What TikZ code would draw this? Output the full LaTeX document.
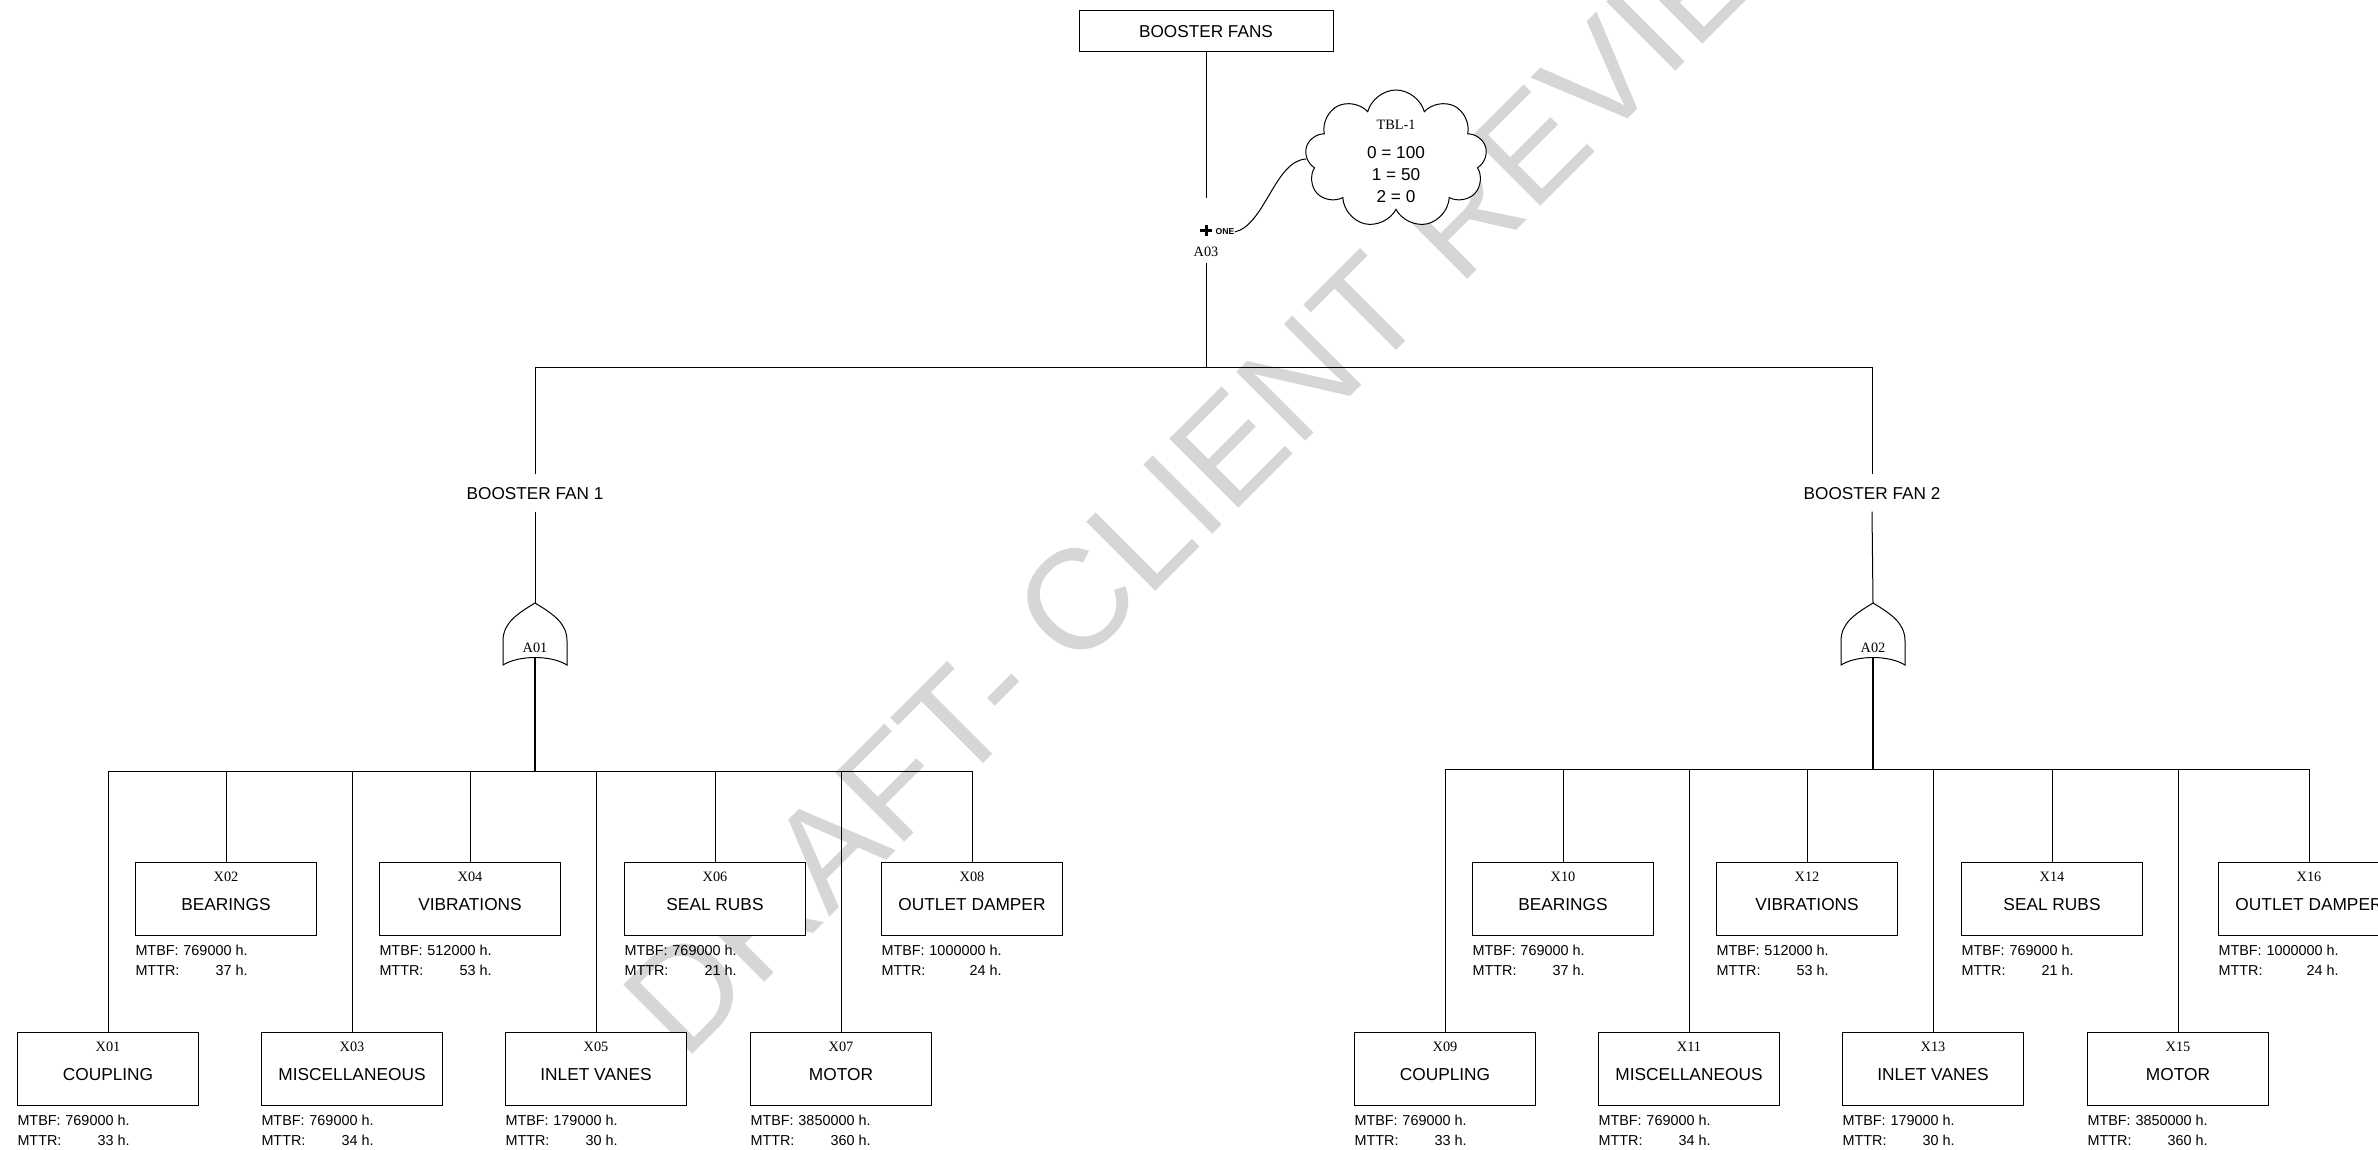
\documentclass[tikz,border=0pt]{standalone}
\usepackage{fontspec}
\setmainfont{Liberation Sans}
\newfontfamily\timesfont{Liberation Serif}
\usepackage{tikz}
\usetikzlibrary{shapes.symbols}
\newcommand{\relia}[2]{\begin{tabular}{@{}l@{\hspace{4pt}}r@{}}MTBF: & #1 h.\\MTTR: & #2 h.\end{tabular}}

\begin{document}
\begin{tikzpicture}[x=1pt,y=-1pt,line width=1pt,
	evbox/.style={draw,fill=white,minimum width=181pt,minimum height=73pt,inner sep=0pt,text height=22.4pt,text depth=0pt,font=\fontsize{17.3}{20}\selectfont},
	code/.style={font=\timesfont\fontsize{14.3}{16}\selectfont,inner sep=0pt},
	evcode/.style={label={[code,anchor=center,yshift=-15pt]north:#1}},
	relbox/.style={anchor=north west,inner sep=0pt,yshift=-5pt,font=\fontsize{14.4}{20}\selectfont},
	fanlabel/.style={inner xsep=0pt,inner ysep=12pt,text height=12.4pt,text depth=0pt,font=\fontsize{17.2}{20}\selectfont},
	orgate/.pic={\draw[fill=white] (0,0) .. controls (18,11) and (32,20) .. (32,38) -- (32,62) .. controls (16,52) and (-16,52) .. (-32,62) -- (-32,38) .. controls (-32,20) and (-18,11) .. (0,0) -- cycle;}]
	\useasboundingbox (0,0) rectangle (2378,1150);
	% watermark
	\node[rotate=45,anchor=base west,inner sep=0pt,text=gray!32,font=\fontsize{142}{150}\selectfont] (draft) at (684,1063) {DRAFT- CLIENT REVIEW};
	
	% top event and voting gate
	\node[draw,fill=white,minimum width=254pt,minimum height=41pt,inner sep=0pt,text height=12.4pt,text depth=0pt,font=\fontsize{17.2}{20}\selectfont] (fans) at (1206,31.5) {BOOSTER FANS};
	\coordinate (a03in) at (1206,198);
	\coordinate (a03out) at (1206,263);
	\coordinate (topbus) at (1206,367);
	\draw (fans) -- (a03in);
	\draw[line width=3pt] (1200,230.7) -- (1212,230.7) (1206,225.3) -- (1206,236.1);
	\node[font=\fontsize{8.6}{9}\selectfont\bfseries,inner sep=0pt] (one) at (1225,232) {ONE};
	\node[code] (a03) at (1206,252) {A03};
	\draw (a03out) -- (topbus);
	\node[cloud,draw,fill=white,cloud puffs=9,aspect=1.3,minimum width=182pt,minimum height=138pt,inner sep=0pt] (tbl) at (1396,159) {};
	\node[anchor=base,align=center,inner sep=0pt,font=\fontsize{17.2}{22}\selectfont] (tbltext) at (1396,202.2) {{\timesfont\fontsize{14.3}{22}\selectfont TBL-1}\\[6.5pt]0 = 100\\1 = 50\\2 = 0};
	\draw (one.east) .. controls (1265,225) and (1275,160) .. (tbl.west);
	
	% booster fan 1
	\node[fanlabel] (fan1) at (535,493) {BOOSTER FAN 1};
	\node[fanlabel] (fan2) at (1872,493) {BOOSTER FAN 2};
	\draw (fan1.north) -- (fan1.north |- topbus) -- (fan2.north |- topbus) -- (fan2.north);
	\coordinate (g1in) at (535,603);
	\coordinate (g1out) at (535,657);
	\coordinate (bus1) at (535,771);
	\draw (fan1.south) -- (g1in);
	\pic at (g1in) {orgate};
	\node[code] (a01) at (535,648) {A01};
	\draw[line width=1.5pt] (g1out) -- (bus1);
	
	\node[evbox,evcode=X01] (x01) at (108,1069) {COUPLING};
	\node[evbox,evcode=X02] (x02) at (226,899) {BEARINGS};
	\node[evbox,evcode=X03] (x03) at (352,1069) {MISCELLANEOUS};
	\node[evbox,evcode=X04] (x04) at (470,899) {VIBRATIONS};
	\node[evbox,evcode=X05] (x05) at (596,1069) {INLET VANES};
	\node[evbox,evcode=X06] (x06) at (715,899) {SEAL RUBS};
	\node[evbox,evcode=X07] (x07) at (841,1069) {MOTOR};
	\node[evbox,evcode=X08] (x08) at (972,899) {OUTLET DAMPER};
	\node[relbox] (r01) at (x01.south west) {\relia{769000}{33}};
	\node[relbox] (r02) at (x02.south west) {\relia{769000}{37}};
	\node[relbox] (r03) at (x03.south west) {\relia{769000}{34}};
	\node[relbox] (r04) at (x04.south west) {\relia{512000}{53}};
	\node[relbox] (r05) at (x05.south west) {\relia{179000}{30}};
	\node[relbox] (r06) at (x06.south west) {\relia{769000}{21}};
	\node[relbox] (r07) at (x07.south west) {\relia{3850000}{360}};
	\node[relbox] (r08) at (x08.south west) {\relia{1000000}{24}};
	\draw (x01.north |- bus1) -- (x08.north |- bus1);
	\draw (x01.north) -- (x01.north |- bus1);
	\draw (x02.north) -- (x02.north |- bus1);
	\draw (x03.north) -- (x03.north |- bus1);
	\draw (x04.north) -- (x04.north |- bus1);
	\draw (x05.north) -- (x05.north |- bus1);
	\draw (x06.north) -- (x06.north |- bus1);
	\draw (x07.north) -- (x07.north |- bus1);
	\draw (x08.north) -- (x08.north |- bus1);
	
	% booster fan 2
	\coordinate (g2in) at (1873,603);
	\coordinate (g2out) at (1873,657);
	\coordinate (bus2) at (1873,769);
	\draw (fan2.south) -- (g2in);
	\pic at (g2in) {orgate};
	\node[code] (a02) at (1873,648) {A02};
	\draw[line width=1.5pt] (g2out) -- (bus2);
	
	\node[evbox,evcode=X09] (x09) at (1445,1069) {COUPLING};
	\node[evbox,evcode=X10] (x10) at (1563,899) {BEARINGS};
	\node[evbox,evcode=X11] (x11) at (1689,1069) {MISCELLANEOUS};
	\node[evbox,evcode=X12] (x12) at (1807,899) {VIBRATIONS};
	\node[evbox,evcode=X13] (x13) at (1933,1069) {INLET VANES};
	\node[evbox,evcode=X14] (x14) at (2052,899) {SEAL RUBS};
	\node[evbox,evcode=X15] (x15) at (2178,1069) {MOTOR};
	\node[evbox,evcode=X16] (x16) at (2309,899) {OUTLET DAMPER};
	\node[relbox] (r09) at (x09.south west) {\relia{769000}{33}};
	\node[relbox] (r10) at (x10.south west) {\relia{769000}{37}};
	\node[relbox] (r11) at (x11.south west) {\relia{769000}{34}};
	\node[relbox] (r12) at (x12.south west) {\relia{512000}{53}};
	\node[relbox] (r13) at (x13.south west) {\relia{179000}{30}};
	\node[relbox] (r14) at (x14.south west) {\relia{769000}{21}};
	\node[relbox] (r15) at (x15.south west) {\relia{3850000}{360}};
	\node[relbox] (r16) at (x16.south west) {\relia{1000000}{24}};
	\draw (x09.north |- bus2) -- (x16.north |- bus2);
	\draw (x09.north) -- (x09.north |- bus2);
	\draw (x10.north) -- (x10.north |- bus2);
	\draw (x11.north) -- (x11.north |- bus2);
	\draw (x12.north) -- (x12.north |- bus2);
	\draw (x13.north) -- (x13.north |- bus2);
	\draw (x14.north) -- (x14.north |- bus2);
	\draw (x15.north) -- (x15.north |- bus2);
	\draw (x16.north) -- (x16.north |- bus2);
\end{tikzpicture}
\end{document}
